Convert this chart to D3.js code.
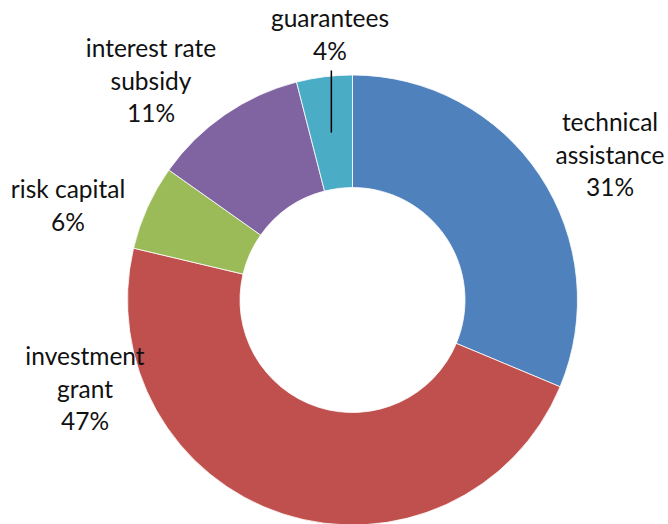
<!DOCTYPE html>
<html lang="en">
<head>
  <meta charset="UTF-8" />
  <title>Support instruments</title>
  <script src="https://cdn.jsdelivr.net/npm/d3@7"></script>
  <style>
    body {
      margin: 0;
      background: #fff;
    }
    .label {
      font-family: Lato, "Open Sans", sans-serif;
      font-size: 24.5px;
      fill: #111;
    }
  </style>
</head>
<body>
  <svg id="chart"></svg>

  <script>
// data (clockwise from 12 o'clock)
const categories = ["technical assistance", "investment grant", "risk capital", "interest rate subsidy", "guarantees"];
const values = [31.3, 47.4, 6.1, 11.2, 4.0];
const labelLines = [
  ["technical", "assistance"],
  ["investment", "grant"],
  ["risk capital"],
  ["interest rate", "subsidy"],
  ["guarantees"]
];
const percentLabels = ["31%", "47%", "6%", "11%", "4%"];

// styling / layout
const colors = ["#4F81BD", "#C0504D", "#9BBB59", "#8064A2", "#4BACC6"];
// label centre (x) and first baseline (y), relative to donut centre
const labelPos = [
  [257.5, -169],
  [-267.5, 65],
  [-284.5, -102],
  [-201.5, -243],
  [-22.5, -273]
];
const lineHeight = 32.5;

const width = 668, height = 524;
const cx = 352.5, cy = 300;
const outerR = 225, innerR = 112.5;

const svg = d3.select("#chart")
  .attr("width", width)
  .attr("height", height);

const g = svg.append("g")
  .attr("transform", `translate(${cx},${cy})`);

const pie = d3.pie().sort(null).value(d => d);
const arc = d3.arc().innerRadius(innerR).outerRadius(outerR);
const arcs = pie(values);

g.selectAll(".slice")
  .data(arcs)
  .enter()
  .append("path")
  .attr("class", "slice")
  .attr("d", arc)
  .attr("fill", (d, i) => colors[i])
  .attr("stroke", "#fff")
  .attr("stroke-width", 0.8);

// leader line for the small guarantees slice (from under "4%" to slice centre)
const gi = categories.indexOf("guarantees");
const cen = arc.centroid(arcs[gi]);
g.append("line")
  .attr("x1", cen[0])
  .attr("x2", cen[0])
  .attr("y1", labelPos[gi][1] + lineHeight * labelLines[gi].length + 11)
  .attr("y2", cen[1])
  .attr("stroke", "#000")
  .attr("stroke-width", 1.5);

const labels = g.selectAll(".label")
  .data(arcs)
  .enter()
  .append("text")
  .attr("class", "label")
  .attr("text-anchor", "middle");

labels.each(function (d, i) {
  const t = d3.select(this);
  const lines = labelLines[i].concat([percentLabels[i]]);
  lines.forEach((line, k) => {
    t.append("tspan")
      .attr("x", labelPos[i][0])
      .attr("y", labelPos[i][1] + k * lineHeight)
      .text(line);
  });
});
  </script>
</body>
</html>
